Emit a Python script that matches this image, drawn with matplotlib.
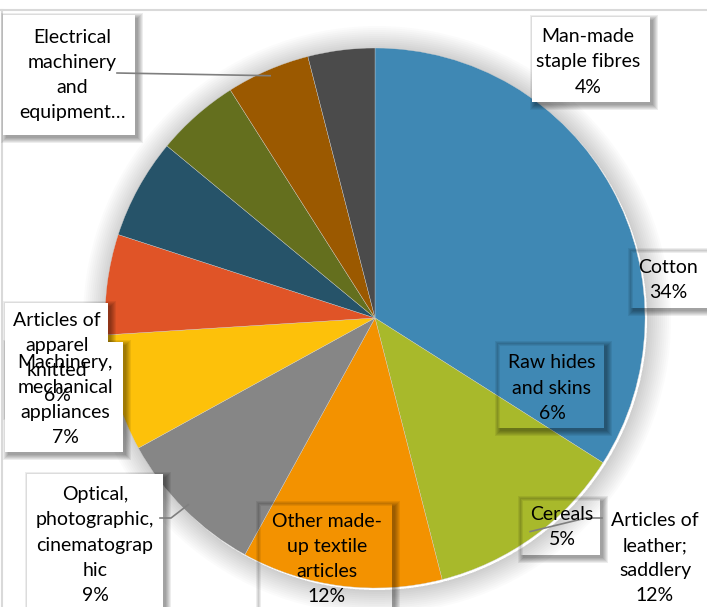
import numpy as np
import matplotlib.pyplot as plt
from matplotlib.patches import Rectangle, Wedge, PathPatch
from matplotlib.path import Path

# Data: shares of exports by product group (percent)
categories = [
    "Cotton",
    "Articles of\nleather;\nsaddlery",
    "Other made-\nup textile\narticles",
    "Optical,\nphotographic,\ncinematograp\nhic",
    "Machinery,\nmechanical\nappliances",
    "Articles of\napparel\nknitted",
    "Raw hides\nand skins",
    "Cereals",
    "Electrical\nmachinery\nand\nequipment\u2026",
    "Man-made\nstaple fibres",
]
shares = [34, 12, 12, 9, 7, 6, 6, 5, 5, 4]
show_pct = [True, True, True, True, True, True, True, True, False, True]
colors = ["#3f88b4", "#a8b92b", "#f39200", "#868686", "#fdc10a",
          "#e05427", "#265369", "#646f1e", "#9b5900", "#4b4b4b"]

W, H = 707, 607
CX, CY, R = 375, 318, 270  # pie centre / radius in pixels (top-left origin)

def fy(y):
    return H - y

plt.rcParams['font.family'] = ['Lato', 'DejaVu Sans']
fig = plt.figure(figsize=(W / 100, H / 100), dpi=100)
ax = fig.add_axes([0, 0, 1, 1])

# chart area border (only top and left edges are in view)
ax.plot([0, W], [fy(10), fy(10)], color='#d9d9d9', lw=1.5, zorder=0)
ax.plot([1.5, 1.5], [0, fy(10)], color='#d9d9d9', lw=1.5, zorder=0)

# soft shadow around the pie
for k in range(12):
    ax.add_patch(Wedge((CX + 2, fy(CY) - 2), R + 2 + 2 * k, 0, 360, width=2 * k + 2,
                       facecolor='black', edgecolor='none', alpha=0.014, zorder=1))

wedges, _ = ax.pie(shares, colors=colors, startangle=90, counterclock=False,
                   center=(CX, fy(CY)), radius=R, frame=True,
                   wedgeprops=dict(edgecolor='#d0d0d0', linewidth=0.25))
for w in wedges:
    w.set_zorder(2)
ax.set_xlim(0, W)
ax.set_ylim(0, H)
ax.set_aspect('equal')
ax.axis('off')


def shadow_box(x0, y0, x1, y1, fill):
    """Label box with a blurred shadow to the bottom-right (pixel coords)."""
    inner = [(x0, fy(y0)), (x0, fy(y1)), (x1, fy(y1)), (x1, fy(y0)), (x0, fy(y0))]
    for k in range(6):
        d = 3
        ox0, oy0, ox1, oy1 = x0 + d - k, y0 + d - k, x1 + d + k, y1 + d + k
        outer = [(ox0, fy(oy0)), (ox1, fy(oy0)), (ox1, fy(oy1)), (ox0, fy(oy1)), (ox0, fy(oy0))]
        verts = outer + inner
        codes = ([Path.MOVETO] + [Path.LINETO] * 3 + [Path.CLOSEPOLY]) * 2
        ax.add_patch(PathPatch(Path(verts, codes), facecolor='black',
                               edgecolor='none', alpha=0.07, zorder=3))
    if fill:
        ax.add_patch(Rectangle((x0, fy(y1)), x1 - x0, y1 - y0, facecolor='white',
                               edgecolor='none', zorder=3.5))


# label layout: text centre, box (x0, y0, x1, y1, white fill)
label_pos = [(668, 280), (655, 558), (327, 559), (95, 545), (65, 400),
             (57, 358), (552, 388), (562, 527), (72, 75), (588, 62)]
label_box = [(630, 250, 712, 308, False), None, (258, 503, 392, 612, False),
             (27, 474, 163, 612, True), (5, 342, 123, 452, True),
             (5, 303, 108, 412, True), (497, 343, 604, 428, False),
             (520, 498, 600, 555, False), (3, 15, 135, 135, True),
             (532, 17, 650, 102, True)]

for cat, val, pct, pos, box in zip(categories, shares, show_pct, label_pos, label_box):
    if box is not None:
        shadow_box(*box)
    txt = f"{cat}\n{val}%" if pct else cat
    ax.text(pos[0], fy(pos[1]), txt, ha='center', va='center',
            multialignment='center', fontsize=14, linespacing=1.58,
            color='black', zorder=6)

# leader lines from the boxes to the wedge edges
leaders = {8: [(117, 73)], 1: [(602, 518), (586, 518)], 3: [(160, 518), (171, 518)]}
for i, pts in leaders.items():
    w = wedges[i]
    mid = np.deg2rad((w.theta1 + w.theta2) / 2)
    ex, ey = CX + (R - 6) * np.cos(mid), fy(CY) + (R - 6) * np.sin(mid)
    xs = [p[0] for p in pts] + [ex]
    ys = [fy(p[1]) for p in pts] + [ey]
    ax.plot(xs, ys, color='#7f7f7f', lw=1.2, zorder=5)

fig.savefig("out.png", dpi=100)
